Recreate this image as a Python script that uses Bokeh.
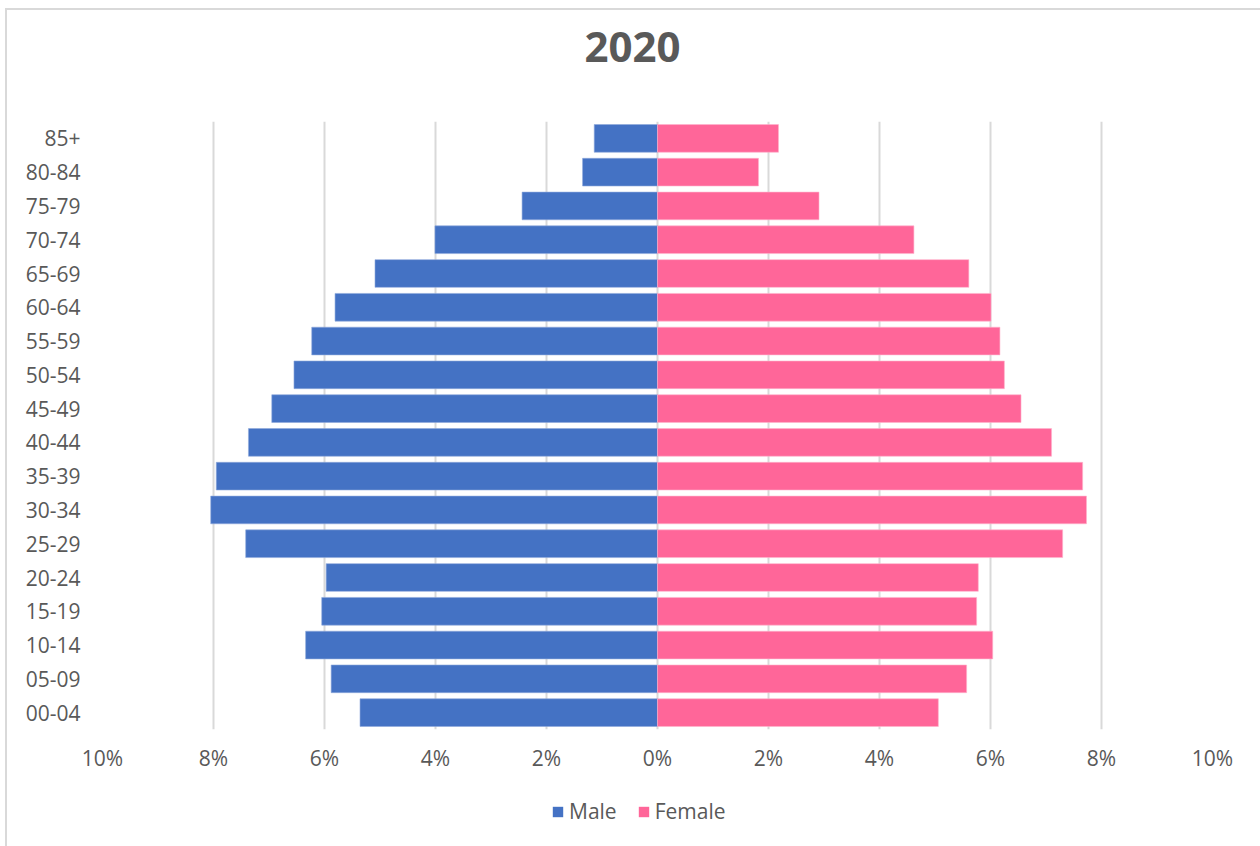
from bokeh.plotting import figure
from bokeh.layouts import column
from bokeh.models import FactorRange, Range1d, FixedTicker, Legend, LegendItem, ColumnDataSource, Label
from bokeh.embed import file_html
from bokeh.resources import INLINE

age_groups = ["00-04", "05-09", "10-14", "15-19", "20-24", "25-29", "30-34", "35-39", "40-44",
              "45-49", "50-54", "55-59", "60-64", "65-69", "70-74", "75-79", "80-84", "85+"]
male = [5.36, 5.88, 6.34, 6.05, 5.97, 7.42, 8.05, 7.95, 7.37,
        6.95, 6.55, 6.23, 5.81, 5.09, 4.01, 2.44, 1.35, 1.14]
female = [5.06, 5.57, 6.04, 5.75, 5.78, 7.30, 7.73, 7.66, 7.10,
          6.55, 6.25, 6.17, 6.01, 5.61, 4.62, 2.91, 1.82, 2.18]
x_ticks = [-10, -8, -6, -4, -2, 0, 2, 4, 6, 8, 10]
title_text = "2020"
series_names = ["Male", "Female"]
series_colors = ["#4472C4", "#FF6699"]

FONT = "Open Sans"
GREY = "#595959"
W = 1253

def strip(height):
    s = figure(width=W, height=height, output_backend="svg", toolbar_location=None,
               x_range=Range1d(0, 1), y_range=Range1d(0, 1),
               x_axis_location=None, y_axis_location=None, min_border=0)
    s.outline_line_color = None
    s.grid.grid_line_color = None
    return s

# title strip
p0 = strip(111)
p0.add_layout(Label(x=530, y=75, x_units="screen", y_units="screen", text=title_text,
                    text_align="center", text_baseline="middle", text_font=FONT,
                    text_font_size="42px", text_font_style="bold", text_color=GREY))

# main chart
src = ColumnDataSource(dict(age=age_groups, male=[-v for v in male], female=female))

p = figure(width=W, height=659, output_backend="svg", toolbar_location=None,
           y_range=FactorRange(*age_groups), x_range=Range1d(-10, 10),
           min_border_left=95, min_border_right=48, min_border_top=0, min_border_bottom=51)
p.outline_line_color = None

p.hbar(y="age", left=0, right="male", height=0.82, source=src,
       fill_color=series_colors[0], line_color="#8EA9DB", line_width=0.6)
p.hbar(y="age", left=0, right="female", height=0.82, source=src,
       fill_color=series_colors[1], line_color="#FFB3CC", line_width=0.6)

p.xaxis.ticker = FixedTicker(ticks=x_ticks)
p.xaxis.major_label_overrides = {t: f"{abs(t)}%" for t in x_ticks}
p.xaxis.axis_line_color = None
p.xaxis.major_tick_line_color = None
p.xaxis.minor_tick_line_color = None
p.xaxis.major_label_standoff = 8
p.xaxis.major_label_text_font = FONT
p.xaxis.major_label_text_font_size = "21px"
p.xaxis.major_label_text_color = GREY

p.yaxis.axis_line_color = None
p.yaxis.major_tick_line_color = None
p.yaxis.minor_tick_line_color = None
p.yaxis.major_label_standoff = 16
p.yaxis.major_label_text_font = FONT
p.yaxis.major_label_text_font_size = "21px"
p.yaxis.major_label_text_color = GREY

p.xgrid.grid_line_color = "#d9d9d9"
p.xgrid.grid_line_width = 2
p.ygrid.grid_line_color = None

# legend strip (frames are aligned with the main plot's frame by the column layout)
p2 = strip(66)
items = []
for name, col in zip(series_names, series_colors):
    r = p2.hbar(y=[-5], left=[0], right=[0], height=0.5, fill_color=col, line_color=None)
    items.append(LegendItem(label=name, renderers=[r]))
legend = Legend(items=items, orientation="horizontal", location=(449, 21),
                glyph_width=13, glyph_height=13, label_standoff=5, spacing=20,
                padding=0, margin=0, border_line_color=None, background_fill_alpha=0,
                label_text_font=FONT, label_text_font_size="21px", label_text_color=GREY)
p2.add_layout(legend, "center")

layout = column(p0, p, p2, spacing=0)
layout.margin = (8, 0, 0, 5)
layout.styles = {"border-top": "2px solid #d9d9d9", "border-left": "2px solid #d9d9d9"}

open("out.html", "w").write(file_html(layout, INLINE))
